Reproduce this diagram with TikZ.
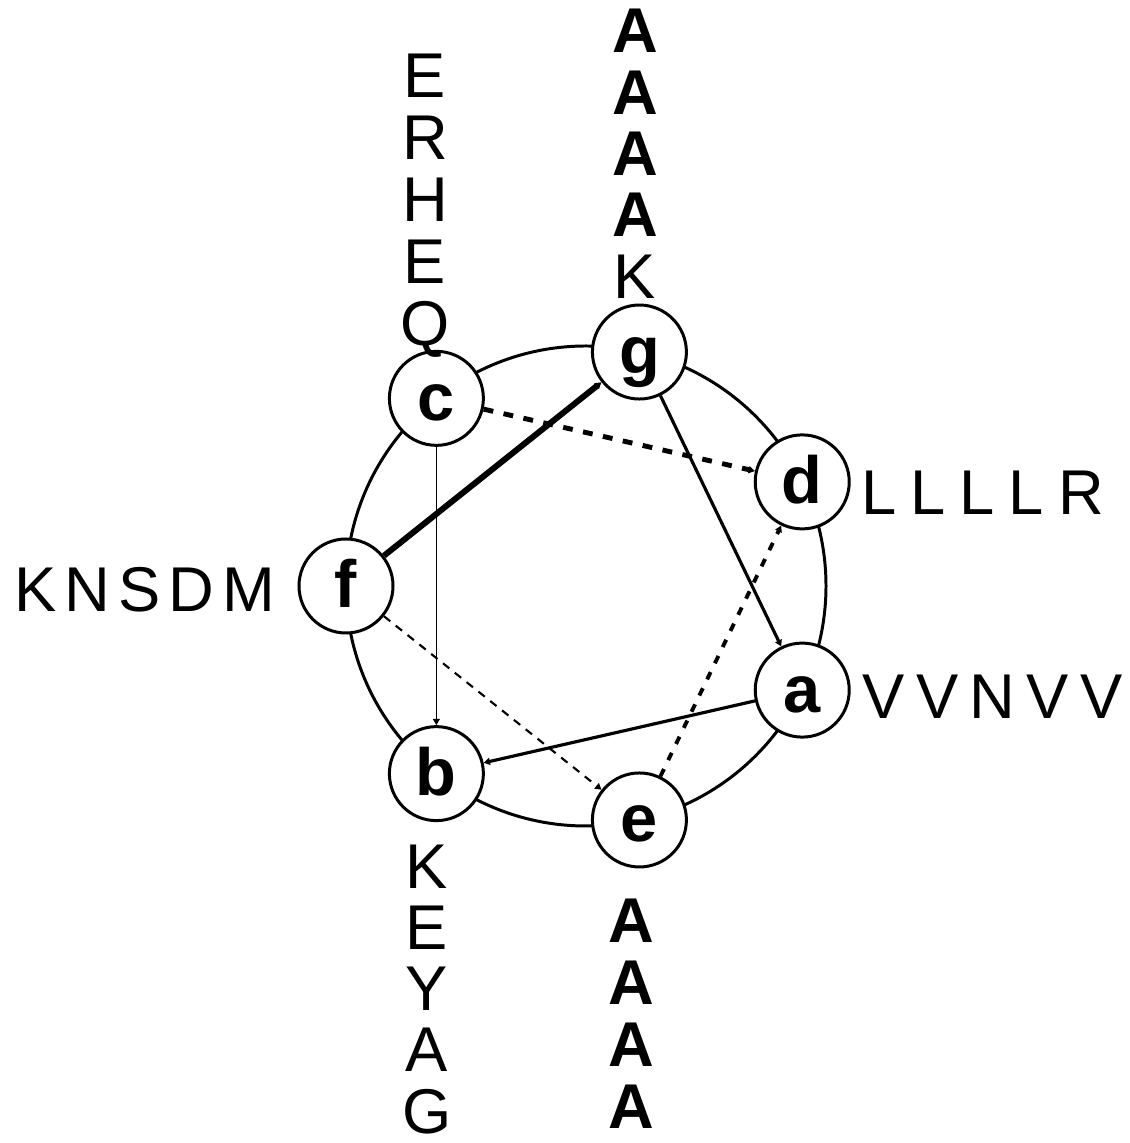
\documentclass[tikz,border=0pt]{standalone}
\usepackage{fontspec}
\setmainfont{Liberation Sans}
\newfontfamily\spacedK[LetterSpace=13]{Liberation Sans}
\newfontfamily\spacedL[LetterSpace=22]{Liberation Sans}
\newfontfamily\spacedV[LetterSpace=18]{Liberation Sans}
\usetikzlibrary{arrows.meta}

\begin{document}
\begin{tikzpicture}[
  res/.style={circle,draw,line width=0.85pt,fill=white,minimum size=0.94cm,
    inner sep=0pt,text height=12.5pt,text depth=0pt,
    font=\fontsize{19}{19}\selectfont\bfseries},
  aa/.style={anchor=base,inner sep=0pt,font=\fontsize{18}{18}\selectfont},
  tip/.style={-{Triangle[length=1.8pt,width=2pt]}}]
\useasboundingbox (0,0) rectangle (11.3,11.43);
% the wheel
\coordinate (o) at (5.86,5.57);
\draw[line width=0.85pt] (o) circle (2.4);
\foreach \n/\ang in {g/77.14,d/25.71,a/-25.71,e/-77.14,b/-128.57,f/180,c/128.57}
  \node[res] (\n) at ([shift={(\ang:2.4)}]o) {\n};
% connectors
\draw[tip,line width=0.9pt] (g) -- (a);
\draw[tip,line width=0.9pt] (a) -- (b);
\draw[tip,line width=0.35pt] (c) -- (b);
\draw[tip,line width=0.6pt,dash pattern=on 2.3pt off 2pt] (f) -- (e);
\draw[tip,line width=1.1pt,dash pattern=on 2.3pt off 2.8pt] (e) -- (d);
\draw[tip,line width=1.4pt,dash pattern=on 2.8pt off 3pt] (c) -- (d);
\draw[tip,line width=1.7pt] (f) -- (g);
% residues
\foreach \t [count=\i from 0] in {E,R,H,E,Q}
  \node[aa] (cres\i) at (4.25,10.45-0.62*\i) {\t};
\foreach \t [count=\i from 0] in {\textbf{A},\textbf{A},\textbf{A},\textbf{A},K}
  \node[aa] (gres\i) at (6.35,10.90-0.613*\i) {\t};
\foreach \t [count=\i from 0] in {K,E,Y,A,G}
  \node[aa] (bres\i) at (4.27,2.54-0.61*\i) {\t};
\foreach \t [count=\i from 0] in {A,A,A,A}
  \node[aa,font=\fontsize{18}{18}\selectfont\bfseries] (eres\i) at (6.31,2.00-0.617*\i) {\t};
\node[aa,anchor=base west] (fres) at (0.135,5.31) {\spacedK KNSDM};
\node[aa,anchor=base west] (dres) at (8.61,6.28) {\spacedL LLLLR};
\node[aa,anchor=base west] (ares) at (8.62,4.24) {\spacedV VVNVV};
\end{tikzpicture}
\end{document}
